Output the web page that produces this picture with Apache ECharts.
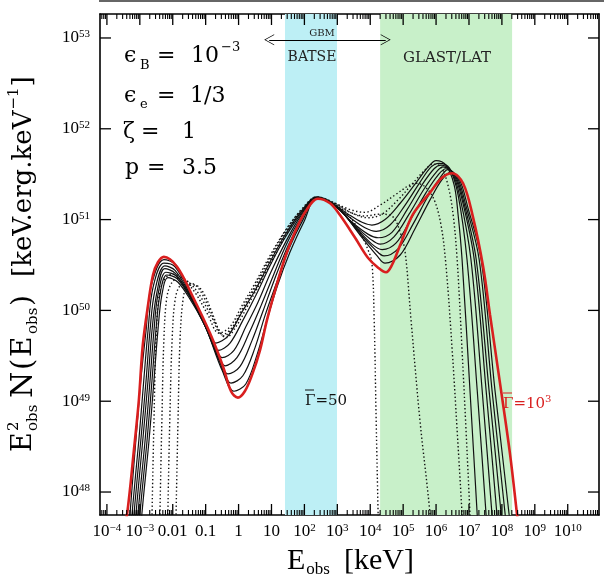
<!DOCTYPE html>
<html>
<head>
<meta charset="utf-8">
<script src="https://cdn.jsdelivr.net/npm/echarts@6.0.0/dist/echarts.min.js"></script>
<style>
html,body{margin:0;padding:0;background:#ffffff;}
#chart{width:604px;height:578px;}
</style>
</head>
<body>
<div id="chart"></div>
<script>
// All values are log10: x = log10(E_obs / keV), y = log10(E^2 N(E) / keV.erg.keV^-1)
const xTickValues = [-4,-3,-2,-1,0,1,2,3,4,5,6,7,8,9,10];
const xTickLabels = ['10^\u22124','10^\u22123','0.01','0.1','1','10','10^2','10^3','10^4','10^5','10^6','10^7','10^8','10^9','10^10'];
const yTickValues = [48,49,50,51,52,53];
const yTickLabels = ['10^48','10^49','10^50','10^51','10^52','10^53'];
const xRange = [-4.21, 10.95];
const yRange = [47.747, 53.264];

const batseBand = [1.41, 2.99];
const glastBand = [4.30, 8.31];
const gbmRange = [0.93, 4.47];
const gbmArrowLevel = 52.98;

// Gamma = 1000 (red)
const red = [[-3.50,47.60],[-3.39,47.75],[-3.18,48.46],[-3.03,49.01],[-2.91,49.62],[-2.75,50.06],[-2.60,50.39],[-2.45,50.53],[-2.27,50.59],[-1.87,50.48],[-1.39,50.15],[-0.87,49.75],[-0.47,49.38],[-0.23,49.11],[-0.02,49.04],[0.19,49.11],[0.41,49.29],[0.65,49.56],[0.86,49.89],[1.11,50.22],[1.41,50.58],[1.71,50.86],[2.02,51.08],[2.41,51.23],[2.78,51.18],[3.08,51.05],[3.54,50.80],[3.93,50.58],[4.24,50.47],[4.48,50.42],[4.66,50.50],[4.91,50.72],[5.30,51.06],[5.82,51.30],[6.18,51.46],[6.49,51.51],[6.82,51.40],[7.12,51.03],[7.43,50.48],[7.64,49.95],[7.95,49.18],[8.25,48.41],[8.46,47.75],[8.55,47.45]];

// intermediate Gamma values (solid)
const solid1 = [[-2.98,47.50],[-2.94,47.75],[-2.72,48.57],[-2.57,49.23],[-2.45,49.78],[-2.33,50.17],[-2.15,50.36],[-1.84,50.31],[-1.42,50.09],[-1.02,49.84],[-0.69,49.64],[-0.32,49.72],[0.10,49.98],[0.50,50.22],[0.95,50.53],[1.41,50.83],[1.87,51.07],[2.38,51.24],[2.84,51.18],[3.33,51.06],[3.75,50.97],[4.05,50.94],[4.45,51.00],[4.91,51.18],[5.36,51.39],[5.76,51.58],[6.00,51.65],[6.30,51.60],[6.55,51.38],[6.67,51.05],[6.79,50.56],[7.03,49.12],[7.25,47.75],[7.30,47.45]];
const solid2 = [[-3.04,47.50],[-3.00,47.75],[-2.78,48.57],[-2.63,49.23],[-2.51,49.78],[-2.39,50.17],[-2.18,50.39],[-1.87,50.35],[-1.42,50.11],[-1.02,49.83],[-0.60,49.56],[-0.26,49.64],[0.13,49.89],[0.53,50.17],[0.95,50.49],[1.41,50.80],[1.87,51.05],[2.38,51.24],[2.87,51.17],[3.39,51.02],[3.84,50.91],[4.18,50.87],[4.60,50.94],[5.06,51.16],[5.51,51.41],[5.85,51.58],[6.09,51.62],[6.40,51.57],[6.67,51.27],[6.94,50.56],[7.25,49.12],[7.52,47.75],[7.58,47.45]];
const solid3 = [[-3.10,47.50],[-3.06,47.75],[-2.84,48.57],[-2.69,49.23],[-2.57,49.78],[-2.45,50.17],[-2.21,50.42],[-1.90,50.38],[-1.45,50.14],[-1.02,49.83],[-0.72,49.61],[-0.50,49.48],[-0.14,49.56],[0.22,49.82],[0.59,50.09],[0.98,50.42],[1.44,50.76],[1.87,51.03],[2.38,51.24],[2.90,51.16],[3.45,50.97],[3.93,50.84],[4.24,50.80],[4.66,50.86],[5.12,51.11],[5.57,51.38],[5.94,51.56],[6.15,51.60],[6.46,51.54],[6.73,51.24],[7.06,50.56],[7.40,49.12],[7.70,47.75],[7.76,47.45]];
const solid4 = [[-3.16,47.50],[-3.12,47.75],[-2.91,48.57],[-2.75,49.23],[-2.63,49.78],[-2.48,50.20],[-2.24,50.46],[-1.93,50.41],[-1.45,50.15],[-1.02,49.84],[-0.69,49.56],[-0.41,49.39],[-0.05,49.48],[0.32,49.75],[0.68,50.05],[1.05,50.38],[1.47,50.74],[1.90,51.02],[2.38,51.24],[2.93,51.15],[3.51,50.94],[3.99,50.79],[4.30,50.73],[4.72,50.81],[5.18,51.06],[5.64,51.34],[6.00,51.52],[6.21,51.58],[6.52,51.51],[6.79,51.22],[7.16,50.56],[7.52,49.12],[7.85,47.75],[7.91,47.45]];
const solid5 = [[-3.22,47.50],[-3.18,47.75],[-2.97,48.57],[-2.81,49.23],[-2.69,49.78],[-2.54,50.22],[-2.24,50.49],[-1.93,50.44],[-1.42,50.14],[-0.99,49.81],[-0.63,49.50],[-0.32,49.30],[0.04,49.38],[0.41,49.67],[0.74,49.99],[1.08,50.33],[1.50,50.71],[1.93,51.01],[2.38,51.24],[2.96,51.14],[3.57,50.91],[4.05,50.73],[4.36,50.67],[4.78,50.74],[5.24,51.01],[5.70,51.30],[6.06,51.49],[6.30,51.56],[6.58,51.49],[6.85,51.18],[7.22,50.56],[7.61,49.12],[7.98,47.75],[8.04,47.45]];
const solid6 = [[-3.28,47.50],[-3.24,47.75],[-3.03,48.57],[-2.88,49.23],[-2.75,49.78],[-2.60,50.25],[-2.27,50.52],[-1.93,50.48],[-1.42,50.15],[-0.96,49.78],[-0.57,49.43],[-0.23,49.20],[0.13,49.28],[0.50,49.59],[0.80,49.94],[1.14,50.29],[1.53,50.68],[1.96,51.00],[2.38,51.24],[2.99,51.14],[3.63,50.87],[4.15,50.67],[4.42,50.60],[4.85,50.68],[5.30,50.95],[5.76,51.26],[6.12,51.46],[6.36,51.55],[6.64,51.47],[6.91,51.15],[7.31,50.56],[7.70,49.12],[8.10,47.75],[8.16,47.45]];
const solid7 = [[-3.34,47.50],[-3.30,47.75],[-3.12,48.57],[-2.97,49.23],[-2.81,49.78],[-2.66,50.26],[-2.27,50.56],[-1.90,50.50],[-1.39,50.14],[-0.93,49.75],[-0.50,49.34],[-0.14,49.11],[0.22,49.19],[0.56,49.51],[0.86,49.89],[1.17,50.26],[1.56,50.64],[1.99,50.98],[2.38,51.24],[3.02,51.13],[3.69,50.83],[4.21,50.60],[4.45,50.52],[4.91,50.61],[5.36,50.90],[5.82,51.22],[6.18,51.44],[6.43,51.52],[6.70,51.45],[6.97,51.13],[7.37,50.56],[7.79,49.12],[8.22,47.75],[8.28,47.45]];

// lowest Gamma values (dotted), dotted1 = Gamma 50
const dotted1 = [[-1.91,47.50],[-1.90,47.75],[-1.84,48.79],[-1.78,49.67],[-1.69,50.11],[-1.57,50.26],[-1.33,50.28],[-1.08,50.20],[-0.81,49.98],[-0.57,49.76],[-0.38,49.70],[-0.08,49.82],[0.29,50.06],[0.65,50.30],[1.11,50.61],[1.56,50.91],[1.96,51.11],[2.38,51.25],[2.87,51.18],[3.33,51.05],[3.69,50.86],[3.93,50.67],[4.05,50.53],[4.12,49.89],[4.18,48.79],[4.24,47.75],[4.26,47.45]];
const dotted2 = [[-2.16,47.50],[-2.15,47.75],[-2.09,48.79],[-2.02,49.67],[-1.93,50.11],[-1.78,50.27],[-1.48,50.30],[-1.23,50.25],[-0.93,50.05],[-0.63,49.81],[-0.44,49.72],[-0.14,49.83],[0.22,50.07],[0.59,50.31],[1.05,50.62],[1.53,50.91],[1.96,51.12],[2.38,51.25],[2.87,51.19],[3.39,51.08],[3.84,51.04],[4.30,51.06],[4.69,51.03],[4.91,50.86],[5.06,50.64],[5.24,49.89],[5.51,48.79],[5.82,47.75],[5.86,47.45]];
const dotted3 = [[-2.40,47.50],[-2.39,47.75],[-2.33,48.79],[-2.27,49.67],[-2.18,50.14],[-2.02,50.31],[-1.78,50.36],[-1.48,50.30],[-1.17,50.16],[-0.81,49.92],[-0.50,49.73],[-0.20,49.81],[0.16,50.05],[0.53,50.29],[0.98,50.60],[1.47,50.90],[1.93,51.12],[2.38,51.25],[2.87,51.19],[3.39,51.11],[3.84,51.08],[4.30,51.16],[4.75,51.27],[5.15,51.37],[5.39,51.40],[5.67,51.36],[5.94,51.22],[6.15,50.94],[6.30,50.50],[6.49,49.56],[6.64,48.68],[6.79,47.75],[6.82,47.45]];
const dotted4 = [[-2.64,47.50],[-2.63,47.75],[-2.57,48.79],[-2.51,49.67],[-2.42,50.14],[-2.27,50.33],[-2.02,50.40],[-1.72,50.36],[-1.33,50.20],[-0.93,49.95],[-0.60,49.75],[-0.26,49.82],[0.10,50.05],[0.47,50.28],[0.92,50.58],[1.44,50.89],[1.93,51.11],[2.38,51.25],[2.90,51.18],[3.45,51.07],[3.93,51.02],[4.36,51.06],[4.85,51.22],[5.27,51.39],[5.67,51.55],[5.91,51.61],[6.15,51.58],[6.36,51.38],[6.52,51.05],[6.64,50.56],[6.79,49.56],[6.91,48.68],[7.03,47.75],[7.06,47.45]];

const solidCurves = [solid1, solid2, solid3, solid4, solid5, solid6, solid7];
const dottedCurves = [dotted1, dotted2, dotted3, dotted4];

const FONT = '"Liberation Serif","DejaVu Serif",serif';
const DFONT = '"DejaVu Serif","Liberation Serif",serif';
const mctx = document.createElement('canvas').getContext('2d');
function measure(t, s, f) { mctx.font = s + 'px ' + (f || FONT); return mctx.measureText(t).width; }
function txt(x, y, t, s, color, f, align) {
  return {type: 'text', x: x, y: y, z: 100, silent: true,
    style: {text: t, fontSize: s, fontFamily: f || DFONT, fill: color || '#000', verticalAlign: 'middle', align: align || 'left'}};
}
// lay out a run of text pieces: [text, size, dy, gapBefore, advance]
function seq(x0, y0, parts, color, f) {
  let x = x0; const els = [];
  parts.forEach(p => {
    const t = p[0], s = p[1], dy = p[2] || 0, gap = p[3] || 0, adv = p[4] !== false;
    x += gap;
    els.push(txt(x, y0 + dy, t, s, color, f));
    if (adv) x += measure(t, s, f);
  });
  return els;
}
function fmtLabel(lbl) {
  const i = lbl.indexOf('^');
  return i < 0 ? '{b|' + lbl + '}' : '{b|' + lbl.slice(0, i) + '}{s|' + lbl.slice(i + 1) + '}';
}
const labelRich = {
  b: {fontSize: 17, fontFamily: FONT, color: '#000'},
  s: {fontSize: 11, fontFamily: FONT, color: '#000', verticalAlign: 'top', padding: [0, 0, 7, 0]}
};

// log-decade minor tick positions (axis decoration)
const xMinor = [], yMinor = [];
for (let n = -5; n <= 11; n++) for (let k = 2; k <= 9; k++) {
  const v = n + Math.log10(k);
  if (v > xRange[0] && v < xRange[1]) xMinor.push(v);
  if (v > yRange[0] && v < yRange[1]) yMinor.push(v);
}

function xAx(pos, showLabel) {
  return {
    type: 'value', min: xRange[0], max: xRange[1], position: pos,
    axisLine: {show: true, onZero: false, lineStyle: {color: '#000', width: 1.6}},
    axisTick: {show: false},
    axisLabel: showLabel ? {show: true, customValues: xTickValues, margin: 8,
      formatter: v => fmtLabel(xTickLabels[xTickValues.indexOf(Math.round(v))]), rich: labelRich} : {show: false},
    splitLine: {show: false}
  };
}
function yAx(pos, showLabel) {
  return {
    type: 'value', min: yRange[0], max: yRange[1], position: pos,
    axisLine: {show: true, onZero: false, lineStyle: {color: '#000', width: 1.6}},
    axisTick: {show: false},
    axisLabel: showLabel ? {show: true, customValues: yTickValues, margin: 10,
      formatter: v => fmtLabel(yTickLabels[yTickValues.indexOf(Math.round(v))]), rich: labelRich} : {show: false},
    splitLine: {show: false}
  };
}

// grid box in pixels (layout)
const GRID = {left: 100, top: 14, width: 499, height: 501};

const series = [];
series.push({
  type: 'line', data: [], xAxisIndex: 0, yAxisIndex: 0, z: 1, silent: true,
  markArea: {silent: true, data: [
    [{xAxis: batseBand[0], itemStyle: {color: '#bdeff5'}}, {xAxis: batseBand[1]}],
    [{xAxis: glastBand[0], itemStyle: {color: '#c8f0c9'}}, {xAxis: glastBand[1]}]
  ]},
  markLine: {silent: true, symbol: ['path://M0 0L7 14L6 14L0 2L-6 14L-7 14Z', 'path://M0 0L7 14L6 14L0 2L-6 14L-7 14Z'],
    symbolSize: [11, 10], label: {show: false}, lineStyle: {color: '#000', width: 1, type: 'solid'},
    data: [[{coord: [gbmRange[0], gbmArrowLevel]}, {coord: [gbmRange[1], gbmArrowLevel]}]]}
});
dottedCurves.forEach(c => series.push({type: 'line', data: c, showSymbol: false, smooth: 0.35, z: 3, silent: true,
  lineStyle: {color: '#111', width: 1.4, type: [1.4, 2.4]}}));
solidCurves.forEach(c => series.push({type: 'line', data: c, showSymbol: false, smooth: 0.35, z: 4, silent: true,
  lineStyle: {color: '#111', width: 1.2}}));
series.push({type: 'line', data: red, showSymbol: false, smooth: 0.35, z: 5, silent: true,
  lineStyle: {color: '#d91f1f', width: 2.6}});

const graphic = [];
graphic.push({type: 'rect', z: 100, shape: {x: 99, y: 0, width: 505, height: 2}, style: {fill: '#666'}, silent: true});
// inward log ticks on all four sides (axis decoration drawn as thin bars on the grid frame)
const gx = v => GRID.left + (v - xRange[0]) / (xRange[1] - xRange[0]) * GRID.width;
const gy = v => GRID.top + (yRange[1] - v) / (yRange[1] - yRange[0]) * GRID.height;
const gB = GRID.top + GRID.height, gT = GRID.top, gL = GRID.left, gR = GRID.left + GRID.width;
function bar(x, y, w, h) {
  graphic.push({type: 'rect', z: 100, silent: true, shape: {x: x, y: y, width: w, height: h}, style: {fill: '#000'}});
}
[[xTickValues, 11, 1.3], [xMinor, 5, 1.1]].forEach(([vals, L, w]) => vals.forEach(v => {
  const x = gx(v);
  bar(x - w / 2, gB - L, w, L);
  bar(x - w / 2, gT, w, L);
}));
[[yTickValues, 11, 1.3], [yMinor, 5, 1.1]].forEach(([vals, L, w]) => vals.forEach(v => {
  const y = gy(v);
  bar(gL, y - w / 2, L, w);
  bar(gR - L, y - w / 2, L, w);
}));
// parameter block
graphic.push(txt(124, 56, '\u03f5', 22), txt(140, 66, 'B', 13), txt(157, 56, '=', 22), txt(191, 56, '10', 22), txt(221, 48, '\u22123', 13));
graphic.push(txt(124, 96, '\u03f5', 22), txt(140, 105, 'e', 13), txt(157, 96, '=', 22), txt(190, 96, '1/3', 22));
graphic.push(txt(123, 132, '\u03b6', 22), txt(141, 132, '=', 22), txt(182, 132, '1', 22));
graphic.push(txt(125, 168, 'p', 22), txt(147, 168, '=', 22), txt(182, 168, '3.5', 22));
// band labels
graphic.push(txt(322, 33, 'GBM', 10, '#222', DFONT, 'center'));
graphic.push(txt(312, 57, 'BATSE', 14, '#222', DFONT, 'center'));
graphic.push(txt(447, 58, 'GLAST/LAT', 15, '#222', DFONT, 'center'));
// curve labels (Gamma with an overbar)
graphic.push(...seq(305, 401, [['\u0393', 15], ['=50', 15, 0, 0]], '#111', DFONT));
graphic.push({type: 'line', z: 100, silent: true, shape: {x1: 305, y1: 390, x2: 314, y2: 390}, style: {stroke: '#111', lineWidth: 1}});
graphic.push(...seq(503, 404, [['\u0393', 15], ['=10', 15, 0, 0], ['3', 10, -5, 0]], '#d91f1f', DFONT));
graphic.push({type: 'line', z: 100, silent: true, shape: {x1: 503, y1: 393, x2: 512, y2: 393}, style: {stroke: '#d91f1f', lineWidth: 1}});
// x axis title
graphic.push(...seq(287, 561, [['E', 30], ['obs', 17, 9, 1], ['[keV]', 30, 0, 14]], '#000', FONT));
// y axis title (rotated)
const yTitle = [];
yTitle.push(txt(1, 0, 'E', 27), txt(22, -10, '2', 15), txt(22, 9, 'obs', 15));
yTitle.push(txt(55, 0, 'N', 30), txt(83, 0, '(', 29), txt(96, 0, 'E', 28), txt(119, 9, 'obs', 15), txt(147, 0, ')', 28));
yTitle.push(...seq(176, 0, [['[keV.erg.keV', 26], ['\u22121', 15, -10, 1], [']', 26, 0, 1]], '#000', DFONT));
graphic.push({type: 'group', x: 24, y: 453, rotation: Math.PI / 2, z: 100, children: yTitle});

const chart = echarts.init(document.getElementById('chart'), null, {renderer: 'canvas'});
chart.setOption({
  animation: false,
  backgroundColor: '#ffffff',
  grid: {left: GRID.left, top: GRID.top, width: GRID.width, height: GRID.height, containLabel: false},
  xAxis: [xAx('bottom', true), xAx('top', false)],
  yAxis: [yAx('left', true), yAx('right', false)],
  series: series,
  graphic: graphic
});
</script>
</body>
</html>
